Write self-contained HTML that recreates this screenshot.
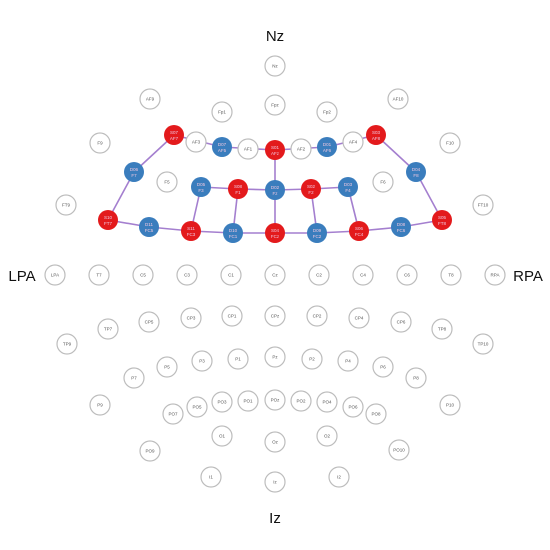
<!DOCTYPE html>
<html><head><meta charset="utf-8"><style>
html,body{margin:0;padding:0;background:#fff}
svg{display:block}
</style></head><body>
<svg id="chart" width="550" height="550" viewBox="0 0 550 550" font-family="Liberation Sans, sans-serif">
<text x="275" y="41" font-size="15" text-anchor="middle" fill="#111">Nz</text>
<text x="275" y="523" font-size="15" text-anchor="middle" fill="#111">Iz</text>
<text x="22" y="281" font-size="15" text-anchor="middle" fill="#111">LPA</text>
<text x="528" y="281" font-size="15" text-anchor="middle" fill="#111">RPA</text>
<g id="links"></g>
<g id="grey"></g>
<g id="optodes"></g>
</svg>
<script>
const greyNames=["Nz","AF9","AF10","Fp1","Fpz","Fp2","F9","F10","AF3","AF1","AF2","AF4","F5","F6","FT9","FT10",
"LPA","T7","C5","C3","C1","Cz","C2","C4","C6","T8","RPA",
"TP9","TP7","CP5","CP3","CP1","CPz","CP2","CP4","CP6","TP8","TP10",
"P7","P5","P3","P1","Pz","P2","P4","P6","P8","P9","P10",
"PO7","PO5","PO3","PO1","POz","PO2","PO4","PO6","PO8","O1","Oz","O2","PO9","PO10","I1","Iz","I2"];
const greyX=[275,150,398,222,275,327,100,450,196,248,301,353,167,383,66,483,
55,99,143,187,231,275,319,363,407,451,495,
67,108,149,191,232,275,317,359,401,442,483,
134,167,202,238,275,312,348,383,416,100,450,
173,197,222,248,275,301,327,353,376,222,275,327,150,399,211,275,339];
const greyY=[66,99,99,112,105,112,143,143,142,149,149,142,182,182,205,205,
275,275,275,275,275,275,275,275,275,275,275,
344,329,322,318,316,316,316,318,322,329,344,
378,367,361,359,357,359,361,367,378,405,405,
414,407,402,401,400,401,402,407,414,436,442,436,451,450,477,482,477];
const optIds=["S07","D07","S01","D01","S03","D06","D05","S08","D02","S02","D03","D04","S10","D11","S11","D10","S04","D09","S06","D08","S05"];
const optPos=["AF7","AF5","AFz","AF6","AF8","F7","F3","F1","Fz","F2","F4","F8","FT7","FC5","FC3","FC1","FCz","FC2","FC4","FC6","FT8"];
const optX=[174,222,275,327,376,134,201,238,275,311,348,416,108,149,191,233,275,317,359,401,442];
const optY=[135,147,150,147,135,172,187,189,190,189,187,172,220,227,231,233,233,233,231,227,220];
const links=[["S07","D07"],["D07","S01"],["S01","D01"],["D01","S03"],["S07","D06"],["D06","S10"],["S03","D04"],["D04","S05"],
["S10","D11"],["D11","S11"],["S11","D10"],["D10","S04"],["S04","D09"],["D09","S06"],["S06","D08"],["D08","S05"],
["D05","S08"],["S08","D02"],["D02","S02"],["S02","D03"],["S01","D02"],["D02","S04"],["S08","D10"],["S11","D05"],["S02","D09"],["D03","S06"]];
const NS="http://www.w3.org/2000/svg";
function mk(t,a,p){const e=document.createElementNS(NS,t);for(const k in a)e.setAttribute(k,a[k]);p.appendChild(e);return e;}
const gG=document.getElementById('grey'),gO=document.getElementById('optodes'),gL=document.getElementById('links');
greyNames.forEach((n,i)=>{
 const c=mk('circle',{cx:greyX[i],cy:greyY[i],r:10,fill:'#fff',stroke:'#bdbdbd','stroke-width':1.2},gG);
 
 
 const t=mk('text',{x:greyX[i],y:greyY[i]+1.5,'font-size':4.5,'text-anchor':'middle',fill:'#555'},gG);
 t.textContent=n;
 
 
});
const idx=id=>optIds.indexOf(id);
links.forEach(([a,b])=>{
 const i=idx(a),j=idx(b);
 const l=mk('line',{x1:optX[i],y1:optY[i],x2:optX[j],y2:optY[j],stroke:'#a47fcf','stroke-width':1.6},gL);
 
 
});
optIds.forEach((id,i)=>{
 const c=mk('circle',{cx:optX[i],cy:optY[i],r:10,fill:id[0]==='S'?'#e31a1c':'#3a7dbd'},gO);
 
 
 const t1=mk('text',{x:optX[i],y:optY[i]-1,'font-size':4.5,'text-anchor':'middle',fill:'#f0c8e0'},gO);
 t1.textContent=id;
 
 
 const t2=mk('text',{x:optX[i],y:optY[i]+5,'font-size':4.5,'text-anchor':'middle',fill:'#f0c8e0'},gO);
 t2.textContent=optPos[i];
 
 
});
</script>
</body></html>
